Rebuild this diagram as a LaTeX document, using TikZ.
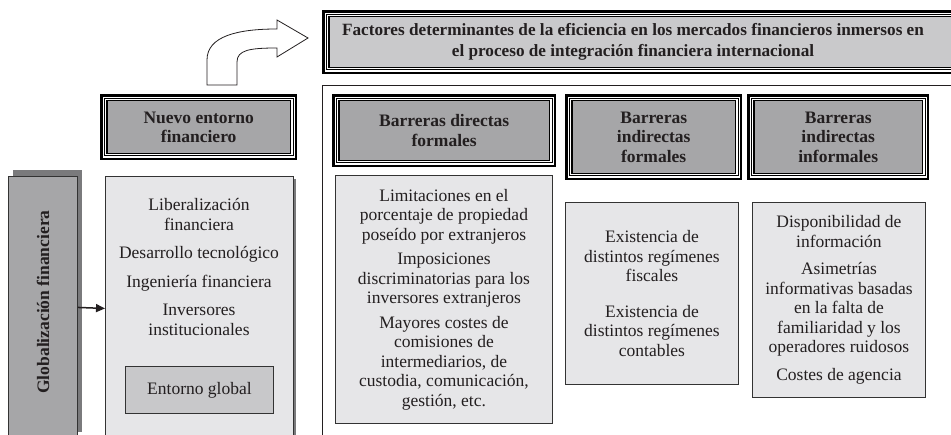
\documentclass[tikz,border=0pt]{standalone}
\usepackage{fontspec}
\setmainfont{Liberation Serif}
\usetikzlibrary{arrows.meta}
\definecolor{hgray}{HTML}{A6A6A8}
\definecolor{tgray}{HTML}{C9C9CB}
\definecolor{cgray}{HTML}{E6E6E8}
\definecolor{egray}{HTML}{C8C8CA}
\definecolor{sgray}{HTML}{7A7A7C}
\definecolor{txt}{HTML}{231F20}
\definecolor{edge}{HTML}{333333}
\tikzset{
  base/.style={anchor=north west, inner sep=0pt, align=center, text=txt,
    font=\fontsize{17.5}{19.5}\selectfont},
  trip/.style={base, fill=hgray, font=\fontsize{17.5}{19.5}\selectfont\bfseries,
    path picture={
      \foreach \ins/\w/\cc in {1.25/2.5/black,3.1/1.2/white,4.2/1.0/black,5.3/1.2/white,6.6/1.4/black}{
        \draw[line width=\w pt,\cc]
          ([shift={(\ins pt,-\ins pt)}]path picture bounding box.north west) rectangle
          ([shift={(-\ins pt,\ins pt)}]path picture bounding box.south east);
      }}},
  cont/.style={base, fill=cgray, draw=edge, line width=0.9pt},
  plain/.style={inner sep=0pt, align=center, text=txt, font=\fontsize{17.5}{19.5}\selectfont},
}
\begin{document}
\begin{tikzpicture}[x=1pt,y=-1pt]
\useasboundingbox (0,0) rectangle (951,435);
\fill[white] (0,0) rectangle (951,435);

% big frame on the right
\node[anchor=north west, draw=txt, line width=1pt, minimum width=700pt, minimum height=400pt, inner sep=0pt] (frame) at (322,85) {};

% bent arrow
\draw[draw=txt, line width=0.8pt, fill=white]
  (207,85) -- (207,60) .. controls (207,36) and (238,29) .. (277,29)
  -- (277,20) -- (308,38) -- (277,57) -- (277,48)
  .. controls (250,48) and (237,50) .. (237,62) -- (237,85) -- cycle;

% title box
\node[trip, fill=tgray, minimum width=680pt, minimum height=64pt] (fact) at (322,10) {};
\node[plain, font=\fontsize{17.2}{21}\selectfont\bfseries] (facttext) at (633,42)
  {Factores determinantes de la eficiencia en los mercados financieros inmersos en\\el proceso de integración financiera internacional};

% heading boxes
\node[trip, minimum width=197pt, minimum height=66pt] (nuevo) at (100,94) {Nuevo entorno\\financiero};
\node[trip, minimum width=224pt, minimum height=73pt] (bdf) at (332,94) {Barreras directas\\formales};
\node[trip, minimum width=177pt, minimum height=86pt] (bif) at (565,94) {Barreras\\indirectas\\formales};
\node[trip, minimum width=182pt, minimum height=86pt] (bii) at (747,94) {Barreras\\indirectas\\informales};

% Globalizacion box
\fill[sgray] (13,170) rectangle (82,432);
\node[base, fill=hgray, draw=edge, line width=0.9pt, minimum width=69pt, minimum height=262pt] (glob) at (8,176) {};
\node[plain, font=\fontsize{17.5}{19.5}\selectfont\bfseries, rotate=90] (globtext) at (43,302) {Globalización financiera};

% Nuevo entorno content
\fill[sgray] (108,179) rectangle (296,443);
\node[cont, minimum width=188pt, minimum height=264pt] (lib) at (105,176) {};
\node[plain] (libtext) at (199,267)
  {Liberalización\\financiera\\[9pt]Desarrollo tecnológico\\[9pt]Ingeniería financiera\\[9pt]Inversores\\institucionales};
\node[base, fill=egray, draw=edge, line width=0.9pt, minimum width=148pt, minimum height=47pt] (ent) at (125,366) {Entorno global};

\draw[txt, line width=1.5pt, -{Triangle[length=9pt,width=8pt]}] (glob.east) -- (lib.west);

% contents of barriers
\node[cont, minimum width=217pt, minimum height=248pt] (cdf) at (335,175)
  {Limitaciones en el\\porcentaje de propiedad\\poseído por extranjeros\\[5pt]Imposiciones\\discriminatorias para los\\inversores extranjeros\\[5pt]Mayores costes de\\comisiones de\\intermediarios, de\\custodia, comunicación,\\gestión, etc.};
\node[cont, minimum width=173pt, minimum height=182pt] (cif) at (565,202)
  {Existencia de\\distintos regímenes\\fiscales\\[16pt]Existencia de\\distintos regímenes\\contables};
\node[cont, minimum width=173pt, minimum height=195pt] (cii) at (752,202)
  {Disponibilidad de\\información\\[8pt]Asimetrías\\informativas basadas\\en la falta de\\familiaridad y los\\operadores ruidosos\\[8pt]Costes de agencia};
\end{tikzpicture}
\end{document}
